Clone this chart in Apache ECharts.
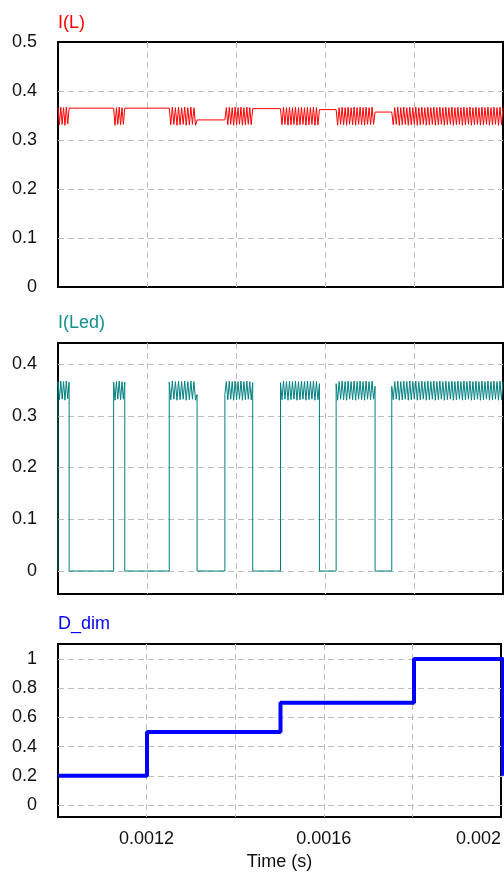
<!DOCTYPE html>
<html>
<head>
<meta charset="utf-8">
<script src="https://cdn.jsdelivr.net/npm/echarts@6/dist/echarts.min.js"></script>
<style>
html,body{margin:0;padding:0;background:#fff;}
#chart{width:504px;height:872px;}
</style>
</head>
<body>
<div id="chart"></div>
<script>
// ---- data ----
const xTickLabels = ['0.0012', '0.0016', '0.002'];
const pulseStart = [0.001, 0.001125, 0.00125, 0.001375, 0.0015, 0.001625, 0.00175];
const pulseEnd   = [0.001025, 0.00115, 0.0013125, 0.0014375, 0.0015875, 0.0017125, 0.002];
const holdLevel  = [0.365, 0.365, 0.341, 0.364, 0.362, 0.357];
const rippleW1 = [0.366, 0.331, 0.367, 0.332, 0.366, 0.330, 0.367, 0.333, 0.365];
const rippleW2 = [0.365, 0.330, 0.366, 0.332, 0.367, 0.331, 0.366, 0.332, 0.365];
const rippleW3 = [0.365, 0.331, 0.367, 0.332, 0.366, 0.330, 0.367, 0.331, 0.366, 0.332, 0.367, 0.330, 0.366, 0.331, 0.367, 0.332, 0.366, 0.330, 0.341];
const rippleW4 = [0.341, 0.366, 0.331, 0.367, 0.332, 0.366, 0.330, 0.367, 0.331, 0.366, 0.332, 0.367, 0.330, 0.366, 0.331, 0.367, 0.332, 0.366, 0.331, 0.364];
const rippleW5 = [0.364, 0.331, 0.367, 0.332, 0.366, 0.330, 0.367, 0.331, 0.366, 0.332, 0.367, 0.330, 0.366, 0.331, 0.367, 0.332, 0.366, 0.330, 0.367, 0.331, 0.366, 0.332, 0.367, 0.330, 0.366, 0.331, 0.362];
const rippleW6 = [0.362, 0.330, 0.366, 0.332, 0.367, 0.331, 0.366, 0.330, 0.367, 0.332, 0.366, 0.331, 0.367, 0.330, 0.366, 0.332, 0.367, 0.331, 0.366, 0.330, 0.367, 0.332, 0.366, 0.331, 0.367, 0.332, 0.357];
const rippleW7 = [
  0.357, 0.331, 0.366, 0.332, 0.367, 0.330, 0.366, 0.331, 0.367, 0.332,
  0.366, 0.330, 0.367, 0.331, 0.366, 0.332, 0.367, 0.330, 0.366, 0.331,
  0.367, 0.332, 0.366, 0.330, 0.367, 0.331, 0.366, 0.332, 0.367, 0.330,
  0.366, 0.331, 0.367, 0.332, 0.366, 0.330, 0.367, 0.331, 0.366, 0.332,
  0.367, 0.330, 0.366, 0.331, 0.367, 0.332, 0.366, 0.330, 0.367, 0.331,
  0.366, 0.332, 0.367, 0.330, 0.366, 0.331, 0.367, 0.332, 0.366, 0.330,
  0.367, 0.331, 0.366, 0.332, 0.367, 0.330, 0.366, 0.331, 0.367, 0.332,
  0.366, 0.330, 0.367, 0.331, 0.366];
const ripples = [rippleW1, rippleW2, rippleW3, rippleW4, rippleW5, rippleW6, rippleW7];
const dimTime  = [0.001, 0.0012, 0.0015, 0.0018, 0.002];
const dimValue = [0.2, 0.5, 0.7, 1.0, 0.2];

// ---- build series data ----
function windowPoints(k) {
  const vals = ripples[k], n = vals.length;
  return vals.map((v, i) => [pulseStart[k] + (pulseEnd[k] - pulseStart[k]) * i / (n - 1), v]);
}
const ilData = [];
const iledData = [];
for (let k = 0; k < ripples.length; k++) {
  const pts = windowPoints(k);
  pts.forEach(p => ilData.push(p));
  iledData.push([pulseStart[k], 0]);
  pts.forEach(p => iledData.push(p));
  if (k < holdLevel.length) iledData.push([pulseEnd[k], 0]);
}
const dimData = dimTime.map((t, i) => [t, dimValue[i]]);

// ---- layout ----
const FONT = 'Liberation Sans, Arial, sans-serif';
const FS = 18;
const L = 58, W = 445;
const dash = {show: true, lineStyle: {color: '#bdbdbd', type: [6, 4], width: 1}};
const panels = [
  {frameTop: 42,  frameH: 245, dataTop: 42,  dataH: 245, min: 0, max: 0.5, step: 0.1},
  {frameTop: 343, frameH: 251, dataTop: 364, dataH: 207, min: 0, max: 0.4, step: 0.1},
  {frameTop: 644, frameH: 176, dataTop: 659, dataH: 146, min: 0, max: 1,   step: 0.2}
];
const grid = [], xAxis = [], yAxis = [];
panels.forEach((p, i) => {
  grid.push({left: L, width: W, top: p.frameTop, height: p.frameH, show: true,
             borderColor: '#000', borderWidth: 2, backgroundColor: 'transparent', containLabel: false});
  grid.push({left: L, width: W, top: p.dataTop, height: p.dataH, containLabel: false});
  const last = i === panels.length - 1;
  xAxis.push({gridIndex: 2 * i, type: 'value', min: 0.001, max: 0.002, interval: 0.0002,
    axisLine: {show: false}, axisTick: {show: false},
    splitLine: Object.assign({showMinLine: false, showMaxLine: false}, dash),
    axisLabel: {show: last, margin: 13, fontSize: FS, color: '#111', fontFamily: FONT,
      alignMaxLabel: 'right',
      formatter: v => { const s = xTickLabels.find(t => Math.abs(parseFloat(t) - v) < 1e-9); return s || ''; }},
    name: last ? 'Time (s)' : '', nameLocation: 'middle', nameGap: 36,
    nameTextStyle: {fontSize: FS, color: '#111', fontFamily: FONT}});
  yAxis.push({gridIndex: 2 * i, type: 'value', min: 0, max: 1, show: false});
  xAxis.push({gridIndex: 2 * i + 1, type: 'value', min: 0.001, max: 0.002, show: false});
  yAxis.push({gridIndex: 2 * i + 1, type: 'value', min: p.min, max: p.max, interval: p.step,
    axisLine: {show: false}, axisTick: {show: false},
    splitLine: Object.assign({showMinLine: i !== 0, showMaxLine: i !== 0}, dash),
    axisLabel: {margin: 21, fontSize: FS, color: '#111', fontFamily: FONT}});
});

const titleStyle = c => ({color: c, fontSize: FS, fontWeight: 'normal', fontFamily: FONT});
const option = {
  animation: false,
  backgroundColor: '#fff',
  title: [
    {text: 'I(L)',   left: L, top: 14,  padding: 0, textStyle: titleStyle('#ff0000')},
    {text: 'I(Led)', left: L, top: 314, padding: 0, textStyle: titleStyle('#139090')},
    {text: 'D_dim',  left: L, top: 615, padding: 0, textStyle: titleStyle('#0000ff')}
  ],
  grid, xAxis, yAxis,
  series: [
    {name: 'I(L)', type: 'line', xAxisIndex: 1, yAxisIndex: 1, data: ilData, showSymbol: false,
     sampling: null, clip: false, lineStyle: {color: '#ff0000', width: 1}},
    {name: 'I(Led)', type: 'line', xAxisIndex: 3, yAxisIndex: 3, data: iledData, showSymbol: false,
     clip: false, lineStyle: {color: '#008080', width: 1}},
    {name: 'D_dim', type: 'line', xAxisIndex: 5, yAxisIndex: 5, data: dimData, step: 'end', showSymbol: false,
     clip: false, lineStyle: {color: '#0000ff', width: 4}}
  ]
};
const chart = echarts.init(document.getElementById('chart'), null, {renderer: 'canvas'});
chart.setOption(option);
</script>
</body>
</html>
